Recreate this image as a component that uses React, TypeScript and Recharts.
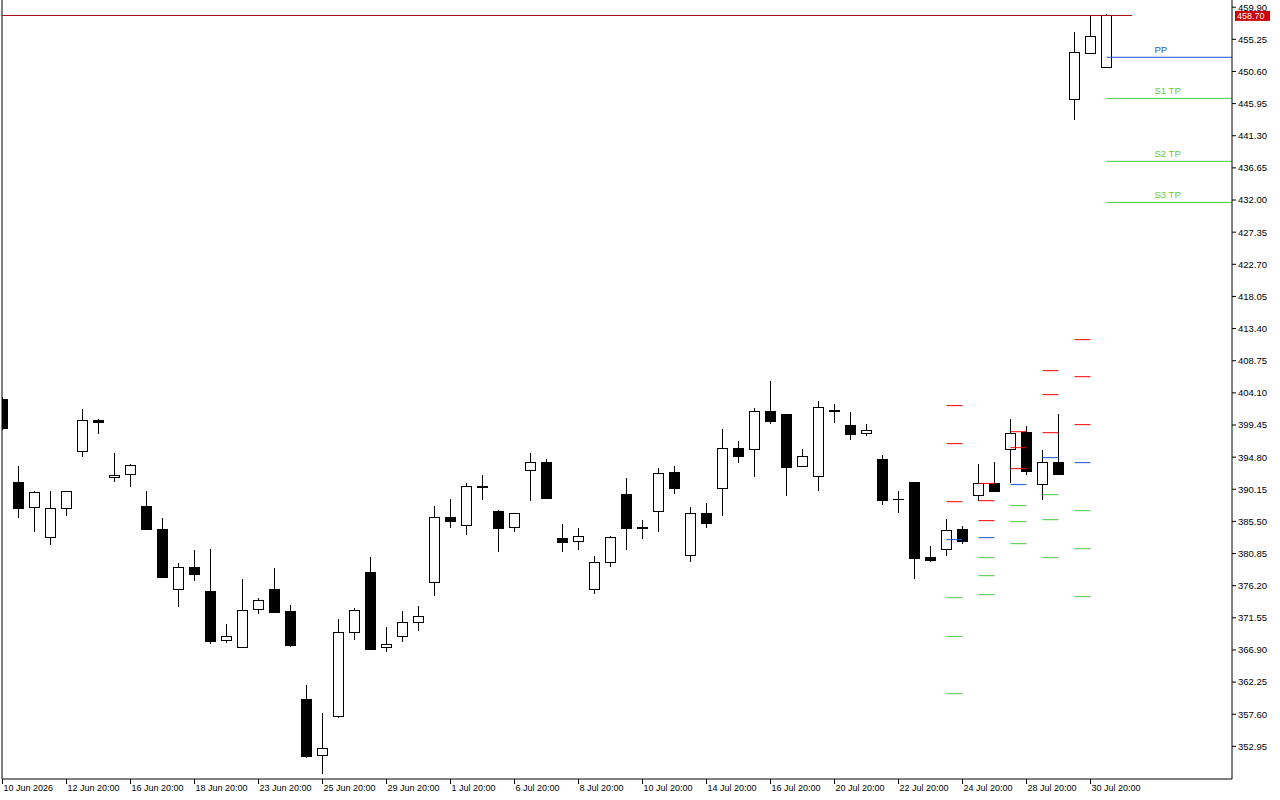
import { ComposedChart, Bar, XAxis, YAxis, ReferenceLine } from "recharts";

// candle data, one entry per 12h bar
const opens = [
  403.2, 391.15, 387.49, 383.15, 387.34, 395.59, 400.08, 391.83, 392.26, 387.67,
  384.35, 375.62, 378.85, 375.38, 368.24, 367.23, 372.73, 375.66, 372.48, 359.75,
  351.6, 357.25, 369.4, 378.12, 367.23, 368.91, 370.85, 376.63, 386.08, 384.88,
  390.55, 386.95, 384.59, 392.84, 394.04, 383.04, 382.57, 375.62, 379.53, 389.37,
  384.6, 386.91, 392.55, 380.54, 386.62, 390.24, 396.02, 395.88, 401.38, 400.99,
  393.42, 391.97, 401.6, 399.35, 398.2, 394.48, 388.7, 391.1, 380.25, 381.41,
  384.3, 389.22, 390.96, 395.88, 398.34, 390.82, 394.0, 446.52, 453.18, 451.15,
];
const highs = [
  403.5, 393.46, 389.85, 389.85, 389.9, 401.71, 400.26, 395.34, 393.85, 389.85,
  385.94, 379.43, 381.31, 381.45, 370.6, 377.11, 374.36, 378.7, 373.35, 361.77,
  357.77, 371.32, 372.92, 380.3, 370.17, 372.48, 373.21, 387.67, 388.69, 391.0,
  392.16, 387.1, 386.7, 395.34, 394.48, 385.07, 384.49, 380.44, 383.33, 391.73,
  385.65, 393.17, 393.46, 387.53, 388.11, 398.82, 397.08, 401.86, 405.76, 401.0,
  395.92, 402.97, 402.43, 401.28, 399.54, 395.05, 389.85, 391.2, 381.99, 385.89,
  384.78, 393.75, 394.04, 400.26, 399.35, 395.78, 401.09, 456.26, 458.72, 458.85,
];
const lows = [
  398.7, 385.98, 383.96, 382.08, 386.27, 394.81, 398.14, 391.19, 390.47, 384.25,
  377.4, 373.1, 376.87, 367.75, 367.89, 367.2, 372.09, 372.24, 367.27, 351.25,
  349.0, 357.07, 368.39, 366.9, 366.59, 368.04, 369.63, 374.7, 384.53, 383.52,
  388.59, 381.06, 383.96, 388.44, 388.8, 381.06, 381.35, 375.04, 378.95, 381.35,
  382.94, 383.96, 389.45, 379.62, 384.53, 386.27, 393.9, 391.91, 399.64, 389.17,
  393.3, 389.89, 399.73, 397.27, 397.85, 387.86, 386.66, 377.16, 379.67, 380.54,
  382.22, 388.5, 389.8, 391.05, 392.2, 388.59, 392.2, 443.63, 453.1, 451.1,
];
const closes = [
  399.0, 387.43, 389.66, 387.34, 389.8, 400.08, 399.87, 392.12, 393.56, 384.39,
  377.44, 378.8, 377.88, 368.18, 368.86, 372.63, 374.07, 372.38, 367.61, 351.54,
  352.61, 369.4, 372.63, 367.03, 367.66, 370.85, 371.71, 386.08, 385.46, 390.53,
  390.45, 384.53, 386.62, 394.0, 388.88, 382.51, 383.29, 379.53, 383.15, 384.53,
  384.5, 392.41, 390.32, 386.62, 385.26, 396.02, 394.95, 401.38, 400.02, 393.36,
  394.87, 401.96, 401.4, 398.14, 398.63, 388.59, 388.6, 380.19, 379.9, 384.16,
  382.65, 390.96, 389.89, 398.2, 392.78, 394.0, 392.35, 453.33, 455.64, 458.7,
];

// time axis labels (every 4th bar)
const xTickIdx = [0, 4, 8, 12, 16, 20, 24, 28, 32, 36, 40, 44, 48, 52, 56, 60, 64, 68];
const xTickLabels = [
  "10 Jun 2026", "12 Jun 20:00", "16 Jun 20:00", "18 Jun 20:00", "23 Jun 20:00", "25 Jun 20:00",
  "29 Jun 20:00", "1 Jul 20:00", "6 Jul 20:00", "8 Jul 20:00", "10 Jul 20:00", "14 Jul 20:00",
  "16 Jul 20:00", "20 Jul 20:00", "22 Jul 20:00", "24 Jul 20:00", "28 Jul 20:00", "30 Jul 20:00",
];

// price scale labels
const yTicks = [
  352.95, 357.6, 362.25, 366.9, 371.55, 376.2, 380.85, 385.5, 390.15, 394.8, 399.45, 404.1,
  408.75, 413.4, 418.05, 422.7, 427.35, 432.0, 436.65, 441.3, 445.95, 450.6, 455.25, 459.9,
];

// short pivot levels drawn under some bars
const pivotCols = [59, 61, 63, 65, 67];
const pivR3 = [402.25, 391.0, 398.48, 407.31, 411.8];
const pivR2 = [396.75, 388.5, 396.17, 403.84, 406.44];
const pivR1 = [388.35, 385.61, 393.13, 398.34, 399.5];
const pivPP = [382.86, 383.15, 390.82, 394.72, 394.0];
const pivS1 = [374.46, 380.25, 387.78, 389.37, 387.05];
const pivS2 = [368.86, 377.65, 385.46, 385.75, 381.55];
const pivS3 = [360.57, 374.9, 382.28, 380.25, 374.61];

// current pivot / target lines on the right
const levelNames = ["PP", "S1 TP", "S2 TP", "S3 TP"];
const levelValues = [452.65, 446.71, 437.6, 431.66];
const levelStart = 69;

const lastPrice = 458.7;
const lastPriceEnd = 70.6;

const X_MIN = -0.03125;
const X_MAX = 76.84375;
const Y_MIN = 348.23;
const Y_MAX = 460.94;

const FONT = "'Liberation Sans', Arial, sans-serif";
const RED = "#ff0000";
const GREEN = "#44cc44";
const BLUE = "#1f4fd6";

const rows = opens.map((o, i) => ({
  i,
  o,
  h: highs[i],
  l: lows[i],
  c: closes[i],
  range: [lows[i], highs[i]],
}));

const Candle = (props: any) => {
  const { x, y, width, height, payload } = props;
  const { o, h, l, c } = payload;
  const top = Math.min(y, y + height);
  const hh = Math.abs(height);
  const ppu = hh / (h - l);
  const yOf = (v: number) => top + (h - v) * ppu;
  const cx = x + width / 2;
  const bTop = yOf(Math.max(o, c));
  const bBot = yOf(Math.min(o, c));
  const bull = c >= o;
  return (
    <g shapeRendering="crispEdges">
      <line x1={cx} x2={cx} y1={top} y2={top + hh} stroke="#000" strokeWidth={1} />
      <rect
        x={cx - 5}
        y={bTop}
        width={10}
        height={Math.max(bBot - bTop, 0.6)}
        fill={bull ? "#fff" : "#000"}
        stroke="#000"
        strokeWidth={1}
      />
    </g>
  );
};

const XTick = ({ x, y, payload }: any) => {
  const k = xTickIdx.indexOf(payload.value);
  return (
    <text x={x + 1} y={y} dy="0.71em" fontSize={9} fontFamily={FONT} fill="#000">
      {xTickLabels[k]}
    </text>
  );
};

const LevelLabel = ({ viewBox, text, color }: any) => (
  <text x={viewBox.x + 48} y={viewBox.y - 4} fill={color} fontSize={9.5} fontFamily={FONT}>
    {text}
  </text>
);

const PriceTag = ({ viewBox }: any) => {
  const right = viewBox.x + viewBox.width;
  return (
    <g>
      <rect x={right + 3} y={viewBox.y - 4.6} width={35} height={10} fill="#cc0000" />
      <text x={right + 5} y={viewBox.y + 0.4} dy="0.355em" fill="#fff" fontSize={9} fontFamily={FONT}>
        {lastPrice.toFixed(2)}
      </text>
    </g>
  );
};

const pivotSets = [
  { vals: pivR3, color: RED },
  { vals: pivR2, color: RED },
  { vals: pivR1, color: RED },
  { vals: pivPP, color: BLUE },
  { vals: pivS1, color: GREEN },
  { vals: pivS2, color: GREEN },
  { vals: pivS3, color: GREEN },
];

export default function App() {
  return (
    <div style={{ position: "absolute", left: 0, top: 0, width: 1280, height: 800, background: "#fff", fontFamily: FONT }}>
      <ComposedChart width={1280} height={800} data={rows} margin={{ top: 0, right: 0, bottom: 0, left: 2 }}>
        <XAxis
          dataKey="i"
          type="number"
          domain={[X_MIN, X_MAX]}
          allowDataOverflow
          ticks={xTickIdx}
          interval={0}
          height={21}
          tick={<XTick />}
          tickSize={5}
          tickMargin={1}
          tickLine={{ stroke: "#000" }}
          axisLine={{ stroke: "#000" }}
        />
        <YAxis
          orientation="right"
          type="number"
          domain={[Y_MIN, Y_MAX]}
          allowDataOverflow
          ticks={yTicks}
          interval={0}
          width={48}
          tickSize={4}
          tickMargin={2}
          tickFormatter={(v: number) => v.toFixed(2)}
          tick={{ fontSize: 9.5, fontFamily: FONT, fill: "#000" }}
          tickLine={{ stroke: "#000" }}
          axisLine={{ stroke: "#000" }}
        />
        <ReferenceLine x={X_MIN} stroke="#000" ifOverflow="visible" />
        <ReferenceLine
          segment={[{ x: X_MIN, y: lastPrice }, { x: lastPriceEnd, y: lastPrice }]}
          stroke="#a01010"
          ifOverflow="visible"
        />
        <ReferenceLine y={lastPrice} stroke="none" strokeOpacity={0} label={(p: any) => <PriceTag {...p} />} />
        {pivotSets.map((set, s) =>
          pivotCols.map((col, k) => (
            <ReferenceLine
              key={`p${s}-${k}`}
              segment={[{ x: col, y: set.vals[k] }, { x: col + 1, y: set.vals[k] }]}
              stroke={set.color}
              ifOverflow="visible"
            />
          ))
        )}
        {levelValues.map((v, k) => (
          <ReferenceLine
            key={`lv${k}`}
            segment={[{ x: levelStart, y: v }, { x: X_MAX, y: v }]}
            stroke={k === 0 ? BLUE : GREEN}
            ifOverflow="visible"
            label={(p: any) => <LevelLabel {...p} text={levelNames[k]} color={k === 0 ? "#2a55d8" : "#66cc33"} />}
          />
        ))}
        <Bar dataKey="range" barSize={11} shape={<Candle />} isAnimationActive={false} />
      </ComposedChart>
    </div>
  );
}
